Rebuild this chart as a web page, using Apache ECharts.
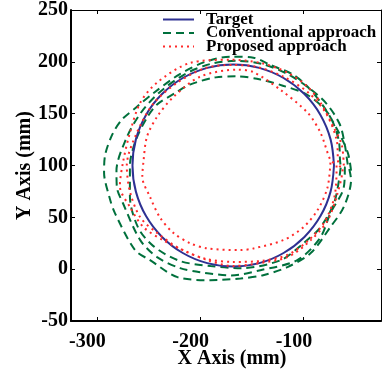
<!DOCTYPE html>
<html>
<head>
<meta charset="utf-8">
<script src="https://cdn.jsdelivr.net/npm/echarts@6/dist/echarts.min.js"></script>
<style>
html,body{margin:0;padding:0;background:#fff;}
#c{width:385px;height:375px;}
</style>
</head>
<body>
<div id="c"></div>
<script>
// ---- data (mm) ----
var seriesNames = ['Target', 'Conventional approach', 'Proposed approach'];
var xTicks = [-300, -200, -100];
var yTicks = [-50, 0, 50, 100, 150, 200, 250];

var target = [
  [-70.5,100],[-73.8,125.2],[-83.6,148.8],[-99.1,168.9],[-119.3,184.4],[-142.8,194.2],
  [-168,197.5],[-193.2,194.2],[-216.8,184.4],[-236.9,168.9],[-252.4,148.8],[-262.2,125.2],
  [-265.5,100],[-262.2,74.8],[-252.4,51.2],[-236.9,31.1],[-216.8,15.6],[-193.2,5.8],
  [-168,2.5],[-142.8,5.8],[-119.3,15.6],[-99.1,31.1],[-83.6,51.2],[-73.8,74.8],[-70.5,100]
];

var convLoop1 = [
  [-54,95],[-57,112],[-67,134],[-80.6,157],[-96,176],[-110.7,188],[-132,197],[-148.5,204],
  [-170,205],[-195,200],[-220,188],[-245,170],[-262,156],[-276,144],[-285,130],[-292,110],
  [-293,93],[-288,70],[-282.5,54],[-263,18.4],[-248.5,8.7],[-222,-7.7],[-190,-10.6],[-161,-9],
  [-139,-5.8],[-115.5,2],[-93,15.5],[-74,40.6],[-61,60],[-54,86],[-56,98]
];
var convLoop2 = [
  [-57,100],[-60,120],[-65,140],[-78,160],[-95,175],[-115,188],[-140,198],[-165,201],
  [-190,198],[-215,188],[-240,170],[-258,150],[-272,125],[-281,95],[-280.6,79],[-274.8,63.8],
  [-258,28],[-241.7,11.6],[-219.4,1],[-200,-3],[-170,-6],[-141.7,-1],[-106,8.7],[-84,30],
  [-74,54],[-61,79],[-60,98]
];
var convLoop3 = [
  [-64,100],[-66,125],[-76,150],[-96,168],[-120,177],[-141.7,183],[-165,186],[-185,185],
  [-210,178],[-224,170],[-242,158.6],[-251.5,146],[-262,125],[-268,100],[-268,70],[-260,40],
  [-245,22],[-220,8],[-190,3],[-160,1],[-122,8.7],[-100,25],[-83.5,40.6],[-70,65],[-64,98]
];

var propLoop1 = [
  [-61,100],[-63,120],[-70.9,137],[-83.5,160.5],[-96,176],[-115.5,189.6],[-141.7,199],[-171,202],
  [-209.7,199],[-241.7,180],[-258,160.5],[-268,131.5],[-274.8,102.5],[-277.7,80],[-268,60],
  [-255,40.6],[-236,28],[-216.5,18.4],[-193,8.7],[-168,3],[-148.5,5],[-115.5,11.6],[-93,28],
  [-76.7,47],[-67,73.5],[-62,98]
];
var propLoop2 = [
  [-66,100],[-68,125],[-78,150],[-95,170],[-120,186],[-145,195],[-168,197],[-195,194],
  [-222,180],[-245,160],[-262,130],[-271,100],[-268,75],[-258,50],[-241.7,35],[-220,20],
  [-195,10],[-168,7],[-140,8],[-115,14],[-95,28],[-80,45],[-70,70],[-68,100]
];
var propLoop3 = [
  [-73.8,105],[-83.5,131.5],[-96,150.9],[-122.3,173],[-148.5,190],[-164,192.5],[-200,185.7],
  [-226,166],[-241.7,147],[-251.5,127.7],[-255,102.5],[-256,89],[-248.5,69.6],[-239,50],
  [-226,35],[-209.7,25],[-193,20],[-161,18.4],[-148.5,20],[-119.4,28],[-100,40.6],[-86.4,57],
  [-76.7,79],[-73.8,105]
];

// ---- chart ----
var FONT = '"Liberation Serif", "Times New Roman", serif';
var conventional = convLoop1.concat(convLoop2, convLoop3);
var proposed = propLoop1.concat(propLoop2, propLoop3);

var chart = echarts.init(document.getElementById('c'), null, {renderer: 'canvas'});
var xBase = {
  type: 'value', min: -325, max: -25,
  splitLine: {show: false}
};
var yBase = {
  type: 'value', min: -50, max: 250, interval: 50,
  splitLine: {show: false}
};
chart.setOption({
  animation: false,
  backgroundColor: '#fff',
  grid: {left: 71, right: 4, top: 10, bottom: 54, containLabel: false},
  legend: {
    data: seriesNames,
    orient: 'vertical',
    left: 162, top: 11,
    padding: 0,
    itemGap: -3.5,
    itemWidth: 31, itemHeight: 10,
    itemStyle: {opacity: 0, borderWidth: 0},
    textStyle: {fontFamily: FONT, fontWeight: 'bold', fontSize: 17, color: '#000', lineHeight: 14, padding: [0,0,0,7]}
  },
  xAxis: [
    Object.assign({}, xBase, {
      position: 'bottom',
      name: 'X Axis (mm)', nameLocation: 'middle', nameGap: 28, nameMoveOverlap: false,
      nameTextStyle: {fontFamily: FONT, fontWeight: 'bold', fontSize: 20, color: '#000', padding: [0,0,0,12]},
      axisLine: {onZero: false, lineStyle: {color: '#000', width: 2}},
      axisTick: {inside: true, length: 4, customValues: xTicks, lineStyle: {color: '#000'}},
      axisLabel: {customValues: xTicks, margin: 11, padding: [0,19,0,0], fontFamily: FONT, fontWeight: 'bold', fontSize: 20, color: '#000'}
    }),
    Object.assign({}, xBase, {
      position: 'top',
      axisLine: {onZero: false, lineStyle: {color: '#000', width: 1}},
      axisTick: {inside: true, length: 4, customValues: xTicks, lineStyle: {color: '#000'}},
      axisLabel: {show: false}
    })
  ],
  yAxis: [
    Object.assign({}, yBase, {
      position: 'left',
      name: 'Y Axis (mm)', nameLocation: 'middle', nameGap: 36, nameMoveOverlap: false,
      nameTextStyle: {fontFamily: FONT, fontWeight: 'bold', fontSize: 20, color: '#000'},
      axisLine: {onZero: false, lineStyle: {color: '#000', width: 2}},
      axisTick: {inside: true, length: 4, lineStyle: {color: '#000'}},
      axisLabel: {margin: 3, fontFamily: FONT, fontWeight: 'bold', fontSize: 20, color: '#000'}
    }),
    Object.assign({}, yBase, {
      position: 'right',
      axisLine: {onZero: false, lineStyle: {color: '#000', width: 1}},
      axisTick: {inside: true, length: 4, lineStyle: {color: '#000'}},
      axisLabel: {show: false}
    })
  ],
  series: [
    {
      name: seriesNames[0], type: 'line', data: target, smooth: 0.35,
      showSymbol: false, symbol: 'none', z: 3,
      lineStyle: {color: '#2e3192', width: 2}, itemStyle: {color: '#2e3192'}
    },
    {
      name: seriesNames[1], type: 'line', data: conventional, smooth: 0.3,
      showSymbol: false, symbol: 'none', z: 2,
      lineStyle: {color: '#00703c', width: 2, type: [8, 5]}, itemStyle: {color: '#00703c'}
    },
    {
      name: seriesNames[2], type: 'line', data: proposed, smooth: 0.3,
      showSymbol: false, symbol: 'none', z: 4,
      lineStyle: {color: '#ff2a2a', width: 2, type: [2, 4]}, itemStyle: {color: '#ff2a2a'}
    }
  ]
});
</script>
</body>
</html>
